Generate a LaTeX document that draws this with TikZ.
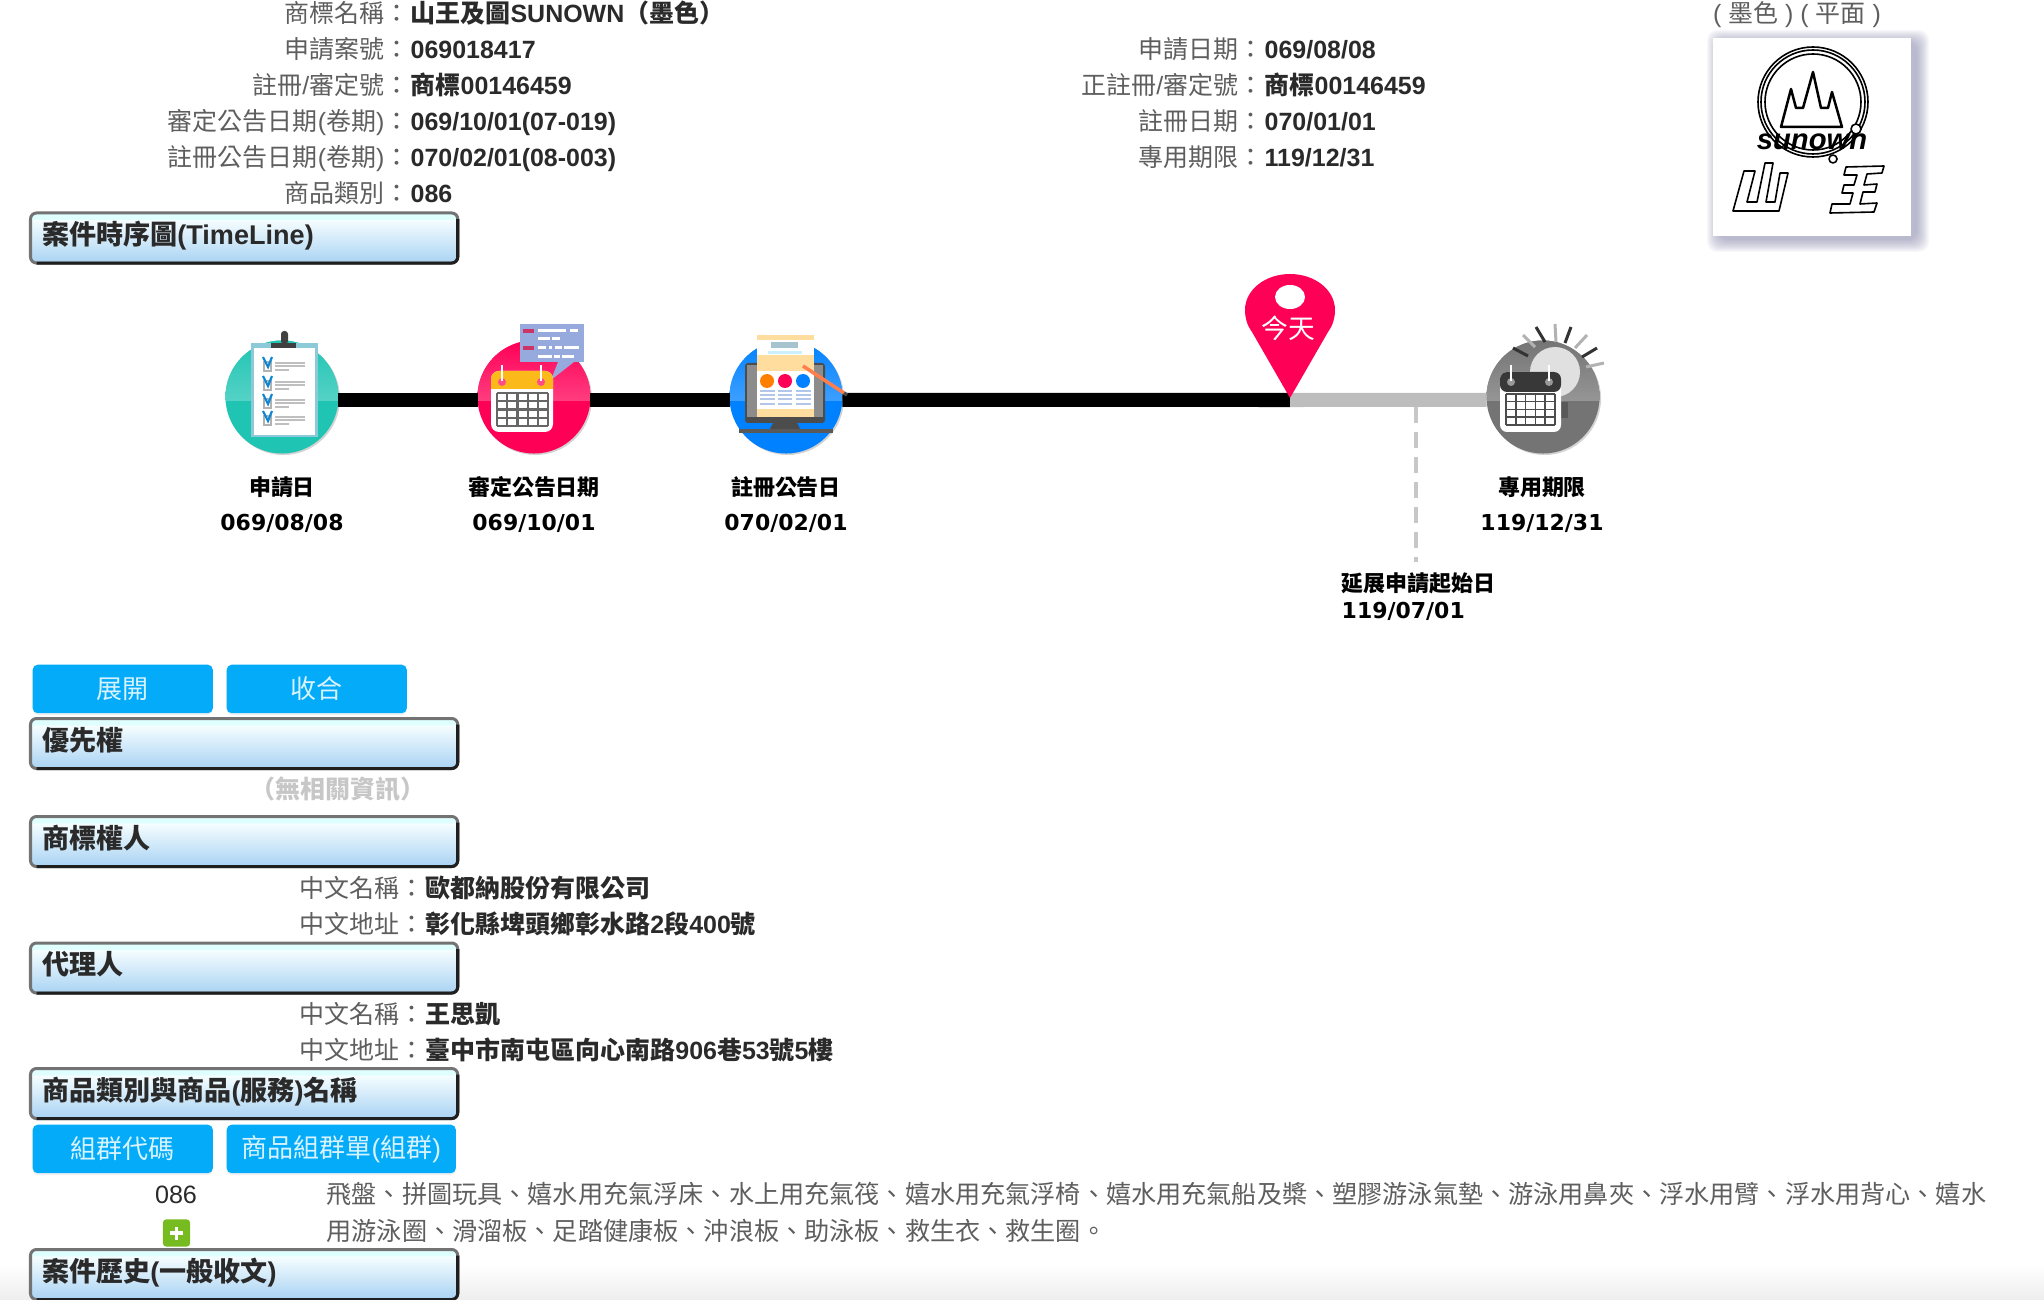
\documentclass[tikz,border=0pt]{standalone}
\usepackage{fontspec}
\usetikzlibrary{shadows}
\setmainfont{Liberation Sans}
\newfontfamily\cjk{Noto Sans CJK TC}
\newfontfamily\dejavu{DejaVu Sans}

% han text goes to the cjk family by itself
\XeTeXinterchartokenstate=1
\newXeTeXintercharclass\cjkclass
\newcount\cjkcode
\cjkcode="3000 \loop\XeTeXcharclass\cjkcode=\cjkclass\advance\cjkcode by 1 \ifnum\cjkcode<"A000 \repeat
\cjkcode="FF00 \loop\XeTeXcharclass\cjkcode=\cjkclass\advance\cjkcode by 1 \ifnum\cjkcode<"FFF0 \repeat
\XeTeXinterchartoks 0 \cjkclass={\begingroup\cjk}
\XeTeXinterchartoks 4095 \cjkclass={\begingroup\cjk}
\XeTeXinterchartoks \cjkclass 0={\endgroup}
\XeTeXinterchartoks \cjkclass 4095={\endgroup}

\definecolor{balteal}{HTML}{1FC4B3}
\definecolor{balpink}{HTML}{FF0057}
\definecolor{balblue}{HTML}{0081FF}
\definecolor{balgrey}{HTML}{747474}
\definecolor{button}{HTML}{03ABF9}
\definecolor{labelgrey}{HTML}{5E5E5E}
\definecolor{valuegrey}{HTML}{2A2A2A}
\definecolor{barlow}{HTML}{A9D3F3}
\definecolor{barhigh}{HTML}{F5FDFF}
\definecolor{barstrip}{HTML}{DFFFFF}
\definecolor{calyellow}{HTML}{FBB91A}
\definecolor{cream}{HTML}{FFDD9E}
\definecolor{plusgreen}{HTML}{76BC21}
\pgfdeclareverticalshading{barfade}{100bp}{color(0bp)=(barlow);color(25bp)=(barlow);color(68bp)=(barhigh);color(69bp)=(barstrip);color(75bp)=(barstrip);color(100bp)=(barstrip)}

\begin{document}
\begin{tikzpicture}[x=0.01cm,y=-0.01cm]
    \tikzstyle{label text}=[anchor=base east,text=labelgrey,font=\fontsize{7.1pt}{8.5pt}\selectfont,inner sep=0pt]
    \tikzstyle{value text}=[anchor=base west,text=valuegrey,font=\fontsize{7.1pt}{8.5pt}\selectfont\bfseries,inner sep=0pt]
    \tikzstyle{goods text}=[anchor=base west,text=labelgrey,font=\fontsize{7.15pt}{8.5pt}\selectfont,inner sep=0pt]
    \tikzstyle{date text}=[anchor=base,text=black,font=\fontsize{6.25pt}{7.5pt}\selectfont\dejavu\bfseries,inner sep=0pt]
    \tikzstyle{bar}=[anchor=north west,shade,shading=barfade,draw=black!55,line width=.03cm,rounded corners=.06cm,
        text width=4.04cm,align=left,inner xsep=.115cm,inner ysep=0pt,outer sep=0pt,text height=.315cm,text depth=.185cm,
        text=valuegrey,font=\fontsize{7.7pt}{8.5pt}\selectfont\bfseries]
    \tikzstyle{bar edge}=[draw=black!88,line width=.03cm,rounded corners=.06cm]
    \tikzstyle{btn}=[anchor=north west,fill=button,rounded corners=.05cm,inner sep=0pt,minimum height=.485cm,text=white!85!button,
        font=\fontsize{7.4pt}{8.5pt}\selectfont,drop shadow={shadow xshift=0cm,shadow yshift=-.02cm,opacity=.12}]
    \tikzstyle{ball}=[circle,minimum size=1.13cm,inner sep=0pt,outer sep=0pt,drop shadow={shadow xshift=.015cm,shadow yshift=-.015cm,opacity=.35}]
    \tikzstyle{past line}=[line width=.14cm,draw=black]
    \tikzstyle{coming line}=[line width=.14cm,draw=black!26]
    \tikzstyle{grid line}=[line width=.022cm]
    \tikzstyle{soft bar}=[line width=.03cm]
    \tikzstyle{logo line}=[draw=black,line width=.016cm,line join=round]

    \useasboundingbox (0,0) rectangle (2044,1300);
    \shade[top color=white,bottom color=black!7] (0,1265) rectangle (2044,1300);

    % Draw the case rows at the top
    \foreach \name/\y/\lab/\val in {1/23/{商標名稱：}/{山王及圖SUNOWN（墨色）},2/59/{申請案號：}/{069018417},
        3/95/{註冊/審定號：}/{商標00146459},4/131/{審定公告日期(卷期)：}/{069/10/01(07-019)},
        5/167/{註冊公告日期(卷期)：}/{070/02/01(08-003)},6/203/{商品類別：}/{086}} {
        \node[label text] (LL-\name) at (410,\y) {\lab};
        \node[value text] (LV-\name) at (410,\y) {\val};
    }
    \foreach \name/\y/\lab/\val in {1/59/{申請日期：}/{069/08/08},2/95/{正註冊/審定號：}/{商標00146459},
        3/131/{註冊日期：}/{070/01/01},4/167/{專用期限：}/{119/12/31}} {
        \node[label text] (RL-\name) at (1264,\y) {\lab};
        \node[value text] (RV-\name) at (1264,\y) {\val};
    }

    % Draw the trademark picture
    \node[label text,anchor=base] (kind) at (1797,23) {( 墨色 ) ( 平面 )};
    \foreach \d in {0,1,...,12}
        \fill[blue!30!black!55,opacity=.05,rounded corners=.1cm] (1719-\d,42-\d) rectangle (1917+\d,240+\d);
    \node[fill=white,minimum size=1.98cm,inner sep=0pt,outer sep=0pt] (logo) at (1812,137) {};
    \foreach \r in {55,52,48}
        \draw[logo line] (1813,102) circle (\r);
    \draw[logo line,line width=.025cm] (1781,127) -- (1791,89) -- (1796,108) -- (1803,108) -- (1813,72) -- (1821,108) -- (1828,108) -- (1832,92) -- (1842,127) -- cycle;
    \node[inner sep=0pt,font=\fontsize{8.3pt}{9pt}\selectfont\bfseries\itshape] (sunown) at (1812,142) {sunown};
    \draw[logo line,fill=white] (1856,129) circle (5);
    \draw[logo line,fill=white] (1833,159) circle (4);
    \draw[logo line] (1733,211) -- (1744,171) -- (1755,171) -- (1747,202) -- (1757,202) -- (1765,163) -- (1773,163) -- (1766,202) -- (1775,202) -- (1780,173) -- (1788,173) -- (1779,211) -- cycle;
    \draw[logo line] (1846,167) -- (1884,166) -- (1882,173) -- (1867,174) -- (1864,185) -- (1877,184) -- (1875,192) -- (1863,192) -- (1860,204) -- (1877,203) -- (1874,212) -- (1830,213) -- (1832,204) -- (1850,204) -- (1853,193) -- (1842,193) -- (1844,185) -- (1854,185) -- (1857,175) -- (1844,175) -- cycle;

    % Draw the section bars
    \foreach \name/\y/\txt in {1/213/{案件時序圖(TimeLine)},2/718.5/{優先權},3/816.5/{商標權人},4/943/{代理人},5/1068.5/{商品類別與商品(服務)名稱},6/1249.5/{案件歷史(一般收文)}} {
        \node[bar] (B-\name) at (30.5,\y) {\txt};
        \draw[bar edge] ([yshift=-.06cm]B-\name.north east) -- (B-\name.south east) -- ([xshift=.06cm]B-\name.south west);
    }

    % Draw the timeline balls
    \foreach \name/\x/\col in {1/282/balteal,2/534/balpink,3/786/balblue,4/1543/balgrey}
        \node[ball,fill=\col,path picture={\shade[top color=\col,bottom color=\col!55!white] (path picture bounding box.north west) rectangle ([yshift=-.03cm]path picture bounding box.east);}] (C-\name) at (\x,397) {};

    % Connect the balls
    \coordinate (today) at (1290,400);
    \coordinate (ext top) at (1416,407);
    \coordinate (ext end) at (1416,562);
    \draw[past line] (C-1.-3) -- (C-2.183);
    \draw[past line] (C-2.-3) -- (C-3.183);
    \draw[past line] (C-3.-3) -- (today);
    \draw[coming line] (today) -- (C-4.183);
    \draw[draw=black!22,line width=.035cm,dash pattern=on .16cm off .09cm] (ext top) -- (ext end);

    % Draw the today pin
    \fill[balpink] (1290,398) -- (1252,332) .. controls (1247,325) and (1245,318) .. (1245,310) .. controls (1245,290) and (1265,274) .. (1290,274) .. controls (1315,274) and (1335,290) .. (1335,310) .. controls (1335,318) and (1333,325) .. (1328,332) -- cycle;
    \fill[white] (1290,297) ellipse (15 and 12);
    \node[inner sep=0pt,text=white,font=\fontsize{7.6pt}{9pt}\selectfont] (pin) at (1288,328) {今天};

    % Draw the clipboard on the first ball
    \fill[blue!20!cyan!35!white!85!black] (251,343) rectangle (318,437);
    \fill[white] (254,348) rectangle (315,435);
    \fill[black!75] (271,343) rectangle (296,348);
    \fill[black!75,rounded corners=.03cm] (281,331) rectangle (288,344);
    \foreach \y in {363,382,400,417} {
        \draw[black!30,line width=.012cm] (264,\y-1) rectangle (271,\y+8);
        \draw[cyan!70!blue,line width=.022cm] (263,\y-6) -- (268,\y+4) -- (272,\y-6);
        \draw[black!25,soft bar,line width=.012cm] (275,\y) -- (305,\y);
        \draw[black!25,soft bar,line width=.012cm] (275,\y+3) -- (305,\y+3);
        \draw[black!25,soft bar,line width=.012cm] (275,\y+7) -- (289,\y+7);
    }

    % Draw the calendar and bubble on the second ball
    \fill[cyan!40!blue!42!white] (520,324) rectangle (584,362);
    \fill[cyan!40!blue!42!white] (558,362) -- (574,362) -- (551,380) -- cycle;
    \foreach \a/\b/\y in {538/566/331,570/578/331,538/550/339,552/560/339,538/546/348,549/552/348,555/562/348,564/579/348,538/552/357,554/560/357,562/574/357}
        \draw[white,soft bar] (\a,\y) -- (\b,\y);
    \foreach \y in {331,348}
        \draw[balpink!60!gray,soft bar,line width=.04cm] (523,\y) -- (534,\y);
    \fill[white,rounded corners=.08cm] (491,371) rectangle (553,432);
    \fill[calyellow,rounded corners=.08cm] (491,371) rectangle (553,389);
    \fill[calyellow] (491,381) rectangle (553,389);
    \foreach \a in {0,...,5}
        \draw[black!60,grid line] (497+\a*10.2,393) -- (497+\a*10.2,426);
    \foreach \a in {0,...,4}
        \draw[black!60,grid line] (497,393+\a*8.25) -- (548,393+\a*8.25);
    \foreach \a in {502,541} {
        \fill[balpink!70!white] (\a,382) circle (4);
        \draw[white,line width=.025cm] (\a,365) -- (\a,381);
    }

    % Draw the screen on the third ball
    \fill[black!70,rounded corners=.03cm] (745,363) rectangle (825,423);
    \fill[black!45] (747,365) rectangle (823,417);
    \fill[cream] (757,335) rectangle (814,417);
    \fill[white] (757,340) rectangle (814,355);
    \fill[white] (757,371) rectangle (814,409);
    \fill[blue!25!cyan!45!black!35!white] (771,342) rectangle (798,348);
    \fill[cyan!20!white] (768,351) rectangle (802,354);
    \fill[black!70] (773,423) -- (797,423) -- (800,429) -- (770,429) -- cycle;
    \fill[black!65] (739,429) rectangle (833,433);
    \foreach \x/\col in {767/orange,785/balpink,803/balblue}
        \fill[\col] (\x,381) circle (7);
    \foreach \y in {391,395,399,404} {
        \draw[cyan!50!blue!30!white,soft bar,line width=.015cm] (760,\y) -- (775,\y);
        \draw[cyan!50!blue!30!white,soft bar,line width=.015cm] (778,\y) -- (792,\y);
        \draw[cyan!50!blue!30!white,soft bar,line width=.015cm] (796,\y) -- (811,\y);
    }
    \draw[orange!55!red!70!white,line width=.035cm] (803,366) -- (844,393);
    \draw[black!70,line width=.035cm] (844,393) -- (847,395);

    % Draw the calendar on the last ball
    \draw[black!80,soft bar] (1536,327) -- (1545,342);
    \draw[black!30,soft bar] (1555,324) -- (1556,342);
    \draw[black!80,soft bar] (1571,327) -- (1565,343);
    \draw[black!30,soft bar] (1587,335) -- (1575,348);
    \draw[black!80,soft bar] (1597,348) -- (1582,357);
    \draw[black!30,soft bar] (1604,363) -- (1586,367);
    \draw[black!30,soft bar] (1523,335) -- (1535,347);
    \draw[black!80,soft bar] (1513,348) -- (1528,356);
    \fill[black!12] (1555,372) circle (25);
    \fill[black!65] (1561,402) rectangle (1568,418);
    \fill[white,rounded corners=.07cm] (1500,372) rectangle (1561,432);
    \fill[black!78,rounded corners=.07cm] (1500,372) rectangle (1561,392);
    \foreach \a in {0,...,5}
        \draw[black!70,grid line,line width=.015cm] (1506+\a*9.8,394) -- (1506+\a*9.8,425);
    \foreach \a in {0,...,4}
        \draw[black!70,grid line,line width=.015cm] (1506,394+\a*7.75) -- (1555,394+\a*7.75);
    \foreach \a in {1511,1549} {
        \fill[black!40] (\a,382) circle (4);
        \draw[white,line width=.02cm] (\a,365) -- (\a,381);
    }

    % Annotate the balls
    \foreach \name/\x/\lab/\dat in {1/282/申請日/{069/08/08},2/534/審定公告日期/{069/10/01},3/786/註冊公告日/{070/02/01},4/1542/專用期限/{119/12/31}} {
        \node[date text] (L-\name) at (\x,495) {\lab};
        \node[date text] (D-\name) at (\x,531) {\dat};
    }
    \node[date text,anchor=base west] (L-ext) at (1341,591) {延展申請起始日};
    \node[date text,anchor=base west] (D-ext) at (1341,619) {119/07/01};

    % Draw the buttons
    \node[btn,minimum width=1.8cm] (open) at (32,664) {展開};
    \node[btn,minimum width=1.8cm] (close) at (226,664) {收合};
    \node[btn,minimum width=1.8cm] (group) at (32,1124) {組群代碼};
    \node[btn,minimum width=2.29cm] (list) at (226,1124) {商品組群單(組群)};

    % Annotate the sections
    \node[value text,anchor=base,text=black!22] (none) at (338,798) {（無相關資訊）};
    \foreach \name/\y/\lab/\val in {1/897/{中文名稱：}/{歐都納股份有限公司},2/933/{中文地址：}/{彰化縣埤頭鄉彰水路2段400號},
        3/1023/{中文名稱：}/{王思凱},4/1059/{中文地址：}/{臺中市南屯區向心南路906巷53號5樓}} {
        \node[label text] (PL-\name) at (425,\y) {\lab};
        \node[value text] (PV-\name) at (425,\y) {\val};
    }
    \node[goods text,anchor=base,text=valuegrey] (code) at (176,1203) {086};
    \node[goods text] (G-1) at (326,1203) {飛盤、拼圖玩具、嬉水用充氣浮床、水上用充氣筏、嬉水用充氣浮椅、嬉水用充氣船及槳、塑膠游泳氣墊、游泳用鼻夾、浮水用臂、浮水用背心、嬉水};
    \node[goods text] (G-2) at (326,1240) {用游泳圈、滑溜板、足踏健康板、沖浪板、助泳板、救生衣、救生圈。};
    \node[fill=plusgreen,rounded corners=.03cm,minimum width=.27cm,minimum height=.27cm,inner sep=0pt] (more) at (176.5,1233) {};
    \draw[white,line width=.035cm] (170,1233) -- (183,1233);
    \draw[white,line width=.035cm] (176.5,1226.5) -- (176.5,1239.5);
\end{tikzpicture}
\end{document}
